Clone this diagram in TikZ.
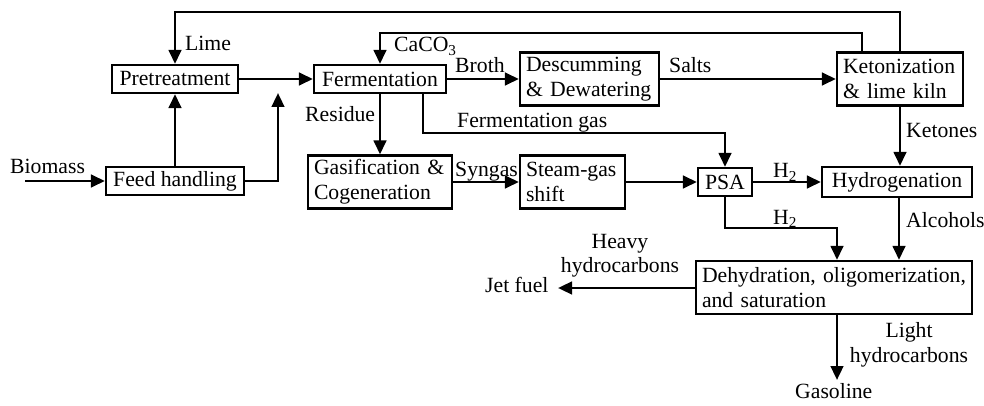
\documentclass[tikz,border=0pt]{standalone}
\usepackage{fontspec}
\setmainfont{Liberation Serif}
\usetikzlibrary{arrows.meta,calc}
\begin{document}
\begin{tikzpicture}[x=1pt,y=-1pt,
  every node/.style={font=\fontsize{21.7}{25}\selectfont},
  box/.style={draw,line width=2.2pt,inner xsep=6pt,inner ysep=0pt,anchor=center},
  twoline/.style={box,align=left},
  lbl/.style={anchor=base west,inner sep=0pt},
  lblc/.style={anchor=base,inner sep=0pt},
  arr/.style={line width=2.8pt,-{Triangle[length=14pt,width=12.5pt]}},
  ln/.style={line width=2.8pt}]
\useasboundingbox (0,0) rectangle (984,406);

% boxes
\node[box,minimum width=126pt,minimum height=28pt] (pre) at (175,79) {Pretreatment};
\node[box,minimum width=138pt,minimum height=28pt] (feed) at (175,181) {Feed handling};
\node[box,minimum width=132pt,minimum height=28pt] (ferm) at (380,79) {Fermentation};
\node[twoline,minimum height=53pt,text width=127pt] (desc) at (589.5,79) {Descumming\\\& Dewatering};
\node[twoline,minimum height=53pt,text width=114pt] (ket) at (900,79) {Ketonization\\\& lime kiln};
\node[twoline,minimum height=53pt,text width=132pt] (gas) at (380,182) {Gasification \&\\Cogeneration};
\node[twoline,minimum height=53pt,text width=93pt] (steam) at (572.5,182) {Steam-gas\\shift};
\node[box,minimum width=54pt,minimum height=28pt] (psa) at (725,182) {PSA};
\node[box,minimum width=150pt,minimum height=30pt] (hyd) at (897,182) {Hydrogenation};
\node[twoline,minimum height=53pt,text width=264pt] (deh) at (834,287.5) {Dehydration, oligomerization,\\and saturation};

% free-end coordinates
\coordinate (bio) at (25,181);
\coordinate (fe) at (278,93);
\coordinate (top1) at (175,12);
\coordinate (top2) at (380,33);
\coordinate (fg) at (725,133);
\coordinate (h2b) at (837,228);
\coordinate (jet) at (558,288);
\coordinate (gasl) at (837,380);

% connectors
\draw[arr] (bio) -- (feed.west);
\draw[arr] (feed.north) -- (pre.south);
\draw[arr] (feed.east) -| (fe);
\draw[arr] (pre.east) -- (ferm.west);
\draw[arr] (ket.north) |- (top1) -- (pre.north);
\draw[arr] ([xshift=-38pt]ket.north) |- (top2) -- (ferm.north);
\draw[arr] (ferm.east) -- (desc.west);
\draw[arr] (desc.east) -- (ket.west);
\draw[arr] (ferm.south) -- (gas.north);
\draw[arr] ([xshift=43pt]ferm.south) |- (fg) -- (psa.north);
\draw[arr] (gas.east) -- (steam.west);
\draw[arr] (steam.east) -- (psa.west);
\draw[arr] (psa.east) -- (hyd.west);
\draw[arr] (ket.south) -- (ket.south |- hyd.north);
\draw[arr] (psa.south) |- (h2b) -- (h2b |- deh.north);
\draw[arr] ([xshift=2pt]hyd.south) -- ([xshift=2pt]hyd.south |- deh.north);
\draw[arr] (deh.west |- jet) -- (jet);
\draw[arr] (h2b |- deh.south) -- (gasl);

% labels
\node[lbl] (tbio) at (10,174) {Biomass};
\node[lbl] (tlime) at (185,51) {Lime};
\node[lbl] (tcaco) at (394,52) {CaCO\textsubscript{3}};
\node[lbl] (tbroth) at (455,73) {Broth};
\node[lbl] (tsalts) at (669,73) {Salts};
\node[lbl] (tres) at (305,122) {Residue};
\node[lbl] (tfg) at (457,128) {Fermentation gas};
\node[lbl] (tsyn) at (455,177) {Syngas};
\node[lbl] (tket) at (906,138) {Ketones};
\node[lbl] (th1) at (773,178) {H\textsubscript{2}};
\node[lbl] (th2) at (773,224) {H\textsubscript{2}};
\node[lbl] (talc) at (906,227) {Alcohols};
\node[lblc] (theavy) at (620,248) {Heavy};
\node[lblc] (thc1) at (620,272) {hydrocarbons};
\node[lbl] (tjet) at (485,292) {Jet fuel};
\node[lblc] (tlight) at (909,337) {Light};
\node[lblc] (thc2) at (909,362) {hydrocarbons};
\node[lbl] (tgasol) at (795,398) {Gasoline};
\end{tikzpicture}
\end{document}
